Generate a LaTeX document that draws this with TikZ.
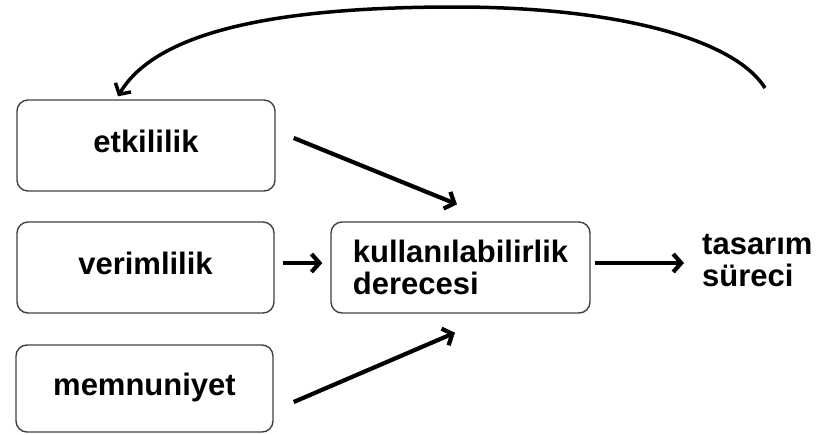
\documentclass[tikz,border=0pt]{standalone}
\usepackage{fontspec}
\setmainfont{Liberation Sans}
\usetikzlibrary{arrows.meta,calc}
\begin{document}
\begin{tikzpicture}[x=1pt,y=-1pt,
  box/.style={draw=black!75, line width=1.4pt, rounded corners=11pt,
    minimum width=258pt, minimum height=91pt, inner sep=0pt,
    font=\bfseries\fontsize{31}{31.5}\selectfont},
  lbl/.style={text height=22pt, text depth=9pt},
  txt/.style={inner sep=0pt, align=left, font=\bfseries\fontsize{31}{32}\selectfont},
  arr/.style={line width=4.2pt, -{Straight Barb[length=8pt,width=18pt]}},
  loop/.style={line width=3.5pt, -{Straight Barb[length=8pt,width=18pt]}}]
\useasboundingbox (0,0) rectangle (821,434);
\node[box,lbl] (etk) at (146,145.5) {etkililik};
\node[box,lbl,minimum width=257pt] (ver) at (145.5,267.5) {verimlilik};
\node[box,lbl,minimum width=257pt,minimum height=87pt] (mem) at (144.5,388.5) {memnuniyet};
\node[box,align=left,minimum width=259pt] (kd) at (460.5,267.5) {kullanılabilirlik\\derecesi};
\node[txt,anchor=west] (ts) at (702,260.5) {tasarım\\süreci};
\coordinate (cs) at (765,88);
\coordinate (pk) at (455,7);
\draw[arr] ([shift={(18,-7.5)}]etk.east) -- ([shift={(-3.5,-17)}]kd.north);
\draw[arr] ([shift={(8,-4.5)}]ver.east) -- ([shift={(-8,-4.5)}]kd.west);
\draw[arr] ([shift={(20,13.5)}]mem.east) -- ([shift={(-5.5,19)}]kd.south);
\draw[arr] ([shift={(4,-4.5)}]kd.east) -- ([shift={(-18,0)}]ts.west |- 0,263);
\draw[loop] (cs) .. controls (735,40) and (620,7) .. (pk)
  .. controls (300,7) and (160,25) .. ([shift={(-28,-3)}]etk.north);
\end{tikzpicture}
\end{document}
